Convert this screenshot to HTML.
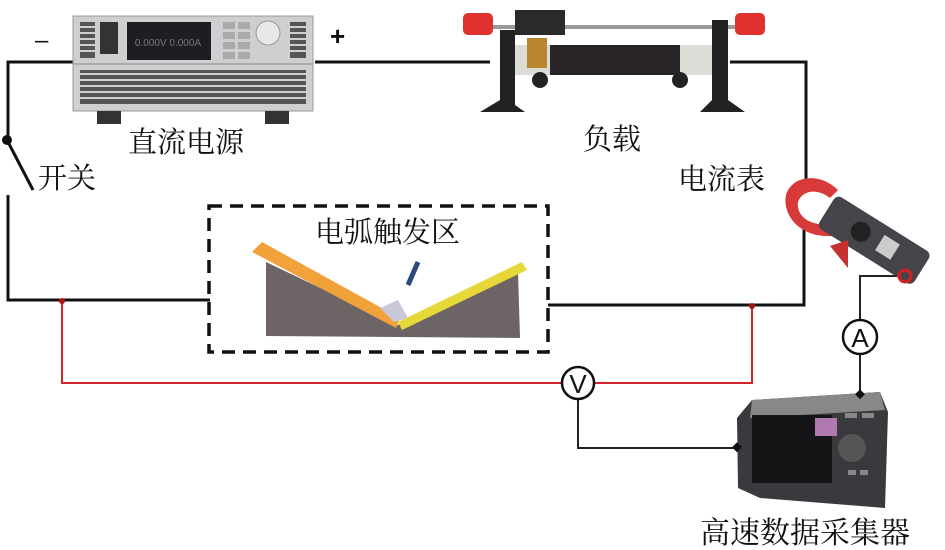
<!DOCTYPE html>
<html><head><meta charset="utf-8"><style>
body{margin:0;background:#fff}
svg{display:block}
text{font-family:"Liberation Serif","Noto Serif CJK SC",serif;fill:#111}
</style></head><body>
<svg width="945" height="550" viewBox="0 0 945 550" xmlns="http://www.w3.org/2000/svg">
<g stroke="#111" stroke-width="3" fill="none">
<polyline points="75,62 8,62 8,140"/>
<line x1="7" y1="140" x2="33" y2="190"/>
<polyline points="8,195 8,300 210,300"/>
<line x1="315" y1="62" x2="490" y2="62"/>
<polyline points="730,62 806,62 806,192"/>
<polyline points="804,226 804,305 548,305"/>
</g>
<circle cx="7" cy="140" r="5" fill="#111"/>
<g stroke="#d0242a" stroke-width="2" fill="none">
<polyline points="62,300 62,383 562,383"/>
<polyline points="594,383 752,383 752,305"/>
</g>
<circle cx="62" cy="301" r="3" fill="#b01010"/><circle cx="752" cy="306" r="3" fill="#b01010"/>
<g stroke="#222" stroke-width="2" fill="none">
<polyline points="578,399 578,448 737,448"/>
<polyline points="905,276 860,276 860,320"/>
<line x1="860" y1="354" x2="860" y2="395"/>
</g>
<circle cx="578" cy="383" r="16" fill="#fff" stroke="#111" stroke-width="2.5"/>
<text x="578" y="393" font-size="26" text-anchor="middle" style="font-family:'Liberation Sans',sans-serif">V</text>
<circle cx="860" cy="337" r="17" fill="#fff" stroke="#111" stroke-width="2.5"/>
<text x="860" y="347" font-size="26" text-anchor="middle" style="font-family:'Liberation Sans',sans-serif">A</text>
<rect x="209" y="206" width="339" height="146" fill="none" stroke="#111" stroke-width="3.5" stroke-dasharray="13,8"/>
<!-- V groove -->
<polygon points="266,262 398,325 518,272 520,338 266,336" fill="#6d6466"/>
<polygon points="252,252 262,242 400,318 396,328" fill="#f2a23a"/>
<polygon points="398,322 522,262 527,270 402,330" fill="#e6d838"/>
<polygon points="380,308 398,300 408,318 394,322" fill="#c8c8d8"/>
<line x1="418" y1="262" x2="408" y2="285" stroke="#2a4a7a" stroke-width="5"/>
<!-- power supply -->
<rect x="73" y="16" width="240" height="95" fill="#cfcfd1" stroke="#999"/>
<line x1="73" y1="64" x2="313" y2="64" stroke="#888"/>
<rect x="127" y="22" width="84" height="38" fill="#1e1e22"/>
<text x="168" y="46" font-size="10" text-anchor="middle" style="fill:#777;font-family:'Liberation Sans'">0.000V 0.000A</text>
<rect x="100" y="22" width="18" height="32" fill="#333"/>
<circle cx="268" cy="33" r="12" fill="#e8e8e8" stroke="#999"/>
<g fill="#555">
<rect x="80" y="22" width="15" height="36"/><rect x="290" y="22" width="16" height="36"/>
<rect x="80" y="70" width="226" height="34"/>
</g>
<g stroke="#cfcfd1" stroke-width="2">
<line x1="80" y1="74" x2="306" y2="74"/><line x1="80" y1="80" x2="306" y2="80"/><line x1="80" y1="86" x2="306" y2="86"/><line x1="80" y1="92" x2="306" y2="92"/><line x1="80" y1="98" x2="306" y2="98"/>
<line x1="80" y1="27" x2="95" y2="27"/><line x1="80" y1="33" x2="95" y2="33"/><line x1="80" y1="39" x2="95" y2="39"/><line x1="80" y1="45" x2="95" y2="45"/><line x1="80" y1="51" x2="95" y2="51"/>
<line x1="290" y1="27" x2="306" y2="27"/><line x1="290" y1="33" x2="306" y2="33"/><line x1="290" y1="39" x2="306" y2="39"/><line x1="290" y1="45" x2="306" y2="45"/><line x1="290" y1="51" x2="306" y2="51"/>
</g>
<g fill="#aaa"><rect x="223" y="22" width="12" height="7"/><rect x="238" y="22" width="12" height="7"/><rect x="223" y="32" width="12" height="7"/><rect x="238" y="32" width="12" height="7"/><rect x="223" y="42" width="12" height="7"/><rect x="238" y="42" width="12" height="7"/><rect x="223" y="52" width="12" height="7"/><rect x="238" y="52" width="12" height="7"/></g>
<rect x="97" y="111" width="24" height="13" fill="#333"/><rect x="265" y="111" width="24" height="13" fill="#333"/>
<!-- resistor -->
<rect x="490" y="25" width="250" height="4" fill="#999"/>
<rect x="500" y="45" width="225" height="30" rx="6" fill="#dcdcd6"/>
<rect x="550" y="45" width="130" height="30" fill="#2a2628"/>
<rect x="515" y="10" width="50" height="25" fill="#2a2a2a"/>
<rect x="527" y="38" width="20" height="30" fill="#b8862e"/>
<polygon points="500,30 515,30 515,105 525,112 480,112 500,100" fill="#222"/>
<polygon points="712,20 728,20 728,100 745,112 700,112 712,100" fill="#222"/>
<rect x="463" y="13" width="30" height="22" rx="5" fill="#e03030"/>
<rect x="735" y="13" width="30" height="22" rx="5" fill="#e03030"/>
<circle cx="540" cy="80" r="8" fill="#222"/><circle cx="680" cy="80" r="8" fill="#222"/>
<!-- clamp meter -->
<path d="M832,236 C800,238 782,215 786,195 C792,175 820,172 838,190 L830,198 C818,188 802,190 798,202 C796,216 810,226 828,224 Z" fill="#d83a3a"/>
<g transform="rotate(32 872 240)">
<rect x="818" y="220" width="112" height="38" rx="6" fill="#47434a"/>
<circle cx="858" cy="239" r="10" fill="#222"/>
<rect x="880" y="229" width="18" height="18" fill="#ccc"/>
</g>
<polygon points="830,246 848,240 848,268" fill="#c83030"/>
<circle cx="905" cy="276" r="6" fill="none" stroke="#d02020" stroke-width="3"/>
<!-- data recorder -->
<polygon points="752,400 880,392 888,412 885,508 760,498 738,488 737,418" fill="#3a3a3e"/>
<polygon points="752,400 880,392 885,410 750,418" fill="#888"/>
<rect x="752" y="415" width="80" height="68" fill="#151518"/>
<rect x="815" y="418" width="22" height="18" fill="#b07ab0"/>
<circle cx="852" cy="448" r="14" fill="#555"/>
<g fill="#888"><rect x="845" y="413" width="12" height="5"/><rect x="862" y="413" width="12" height="5"/><rect x="848" y="470" width="8" height="5"/><rect x="860" y="470" width="8" height="5"/></g>
<rect x="733" y="444" width="7" height="7" fill="#111" transform="rotate(45 737 448)"/>
<rect x="856" y="391" width="7" height="7" fill="#111" transform="rotate(45 860 395)"/>
<text x="35" y="48" font-size="24" style="font-family:'Liberation Sans'">–</text>
<text x="330" y="45" font-size="26" font-weight="bold" style="font-family:'Liberation Sans'">+</text>
<text x="128" y="152" font-size="29">直流电源</text>
<text x="38" y="188" font-size="29">开关</text>
<text x="583" y="149" font-size="29">负载</text>
<text x="678" y="189" font-size="29">电流表</text>
<text x="315" y="242" font-size="29">电弧触发区</text>
<text x="700" y="543" font-size="30">高速数据采集器</text>
</svg>
</body></html>
